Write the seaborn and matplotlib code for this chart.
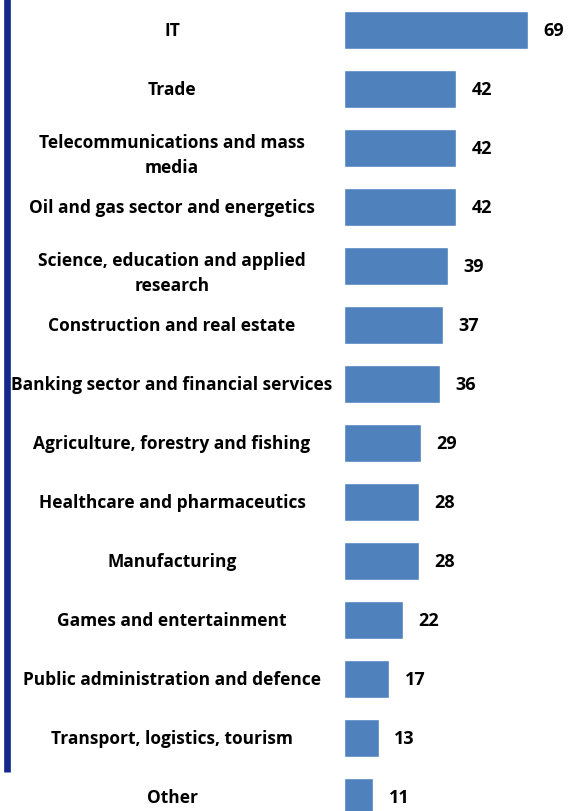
import matplotlib
matplotlib.use("Agg")
import matplotlib.pyplot as plt
import matplotlib.lines as mlines
import seaborn as sns
import pandas as pd

categories = ["IT", "Trade", "Telecommunications and mass\nmedia",
              "Oil and gas sector and energetics",
              "Science, education and applied\nresearch",
              "Construction and real estate",
              "Banking sector and financial services",
              "Agriculture, forestry and fishing",
              "Healthcare and pharmaceutics", "Manufacturing",
              "Games and entertainment",
              "Public administration and defence",
              "Transport, logistics, tourism", "Other"]
values = [69, 42, 42, 42, 39, 37, 36, 29, 28, 28, 22, 17, 13, 11]

df = pd.DataFrame({"cat": categories, "val": values})

sns.set_style("white")
plt.rcParams['font.family'] = ['Open Sans', 'DejaVu Sans']

W, H = 579, 812
fig = plt.figure(figsize=(W / 100, H / 100), dpi=100)
# axes: bars start at x=344px, right edge at figure edge
ax = fig.add_axes([344 / W, 0, 1 - 344 / W, 1])
sns.barplot(data=df, x="val", y="cat", orient="h", color="#4F81BD",
            width=38 / 59, saturation=1, ax=ax)

px_per_unit = 184 / 69
ax.set_xlim(0, (W - 344) / px_per_unit)
ax.set_ylim((H - 31) / 59, -31 / 59)
ax.axis("off")

for i, (c, v) in enumerate(zip(categories, values)):
    ax.annotate(str(v), xy=(v, i), xytext=(11, 0), textcoords="offset points",
                ha="left", va="center", fontsize=13, fontweight="bold",
                color="black")
    # two-line labels sit a little lower than the bar centre
    dy = 0.11 if "\n" in c else 0
    ax.text((172 - 344) / (W - 344), i + dy, c, transform=ax.get_yaxis_transform(),
            ha="center", va="center", fontsize=12.5, fontweight="bold",
            color="black", multialignment="center", linespacing=1.45)

fig.add_artist(mlines.Line2D([7.5 / W, 7.5 / W], [1 - 773 / H, 1],
                             transform=fig.transFigure, color="#14288C",
                             linewidth=4.8, solid_capstyle="butt"))

fig.savefig("out.png", dpi=100)
